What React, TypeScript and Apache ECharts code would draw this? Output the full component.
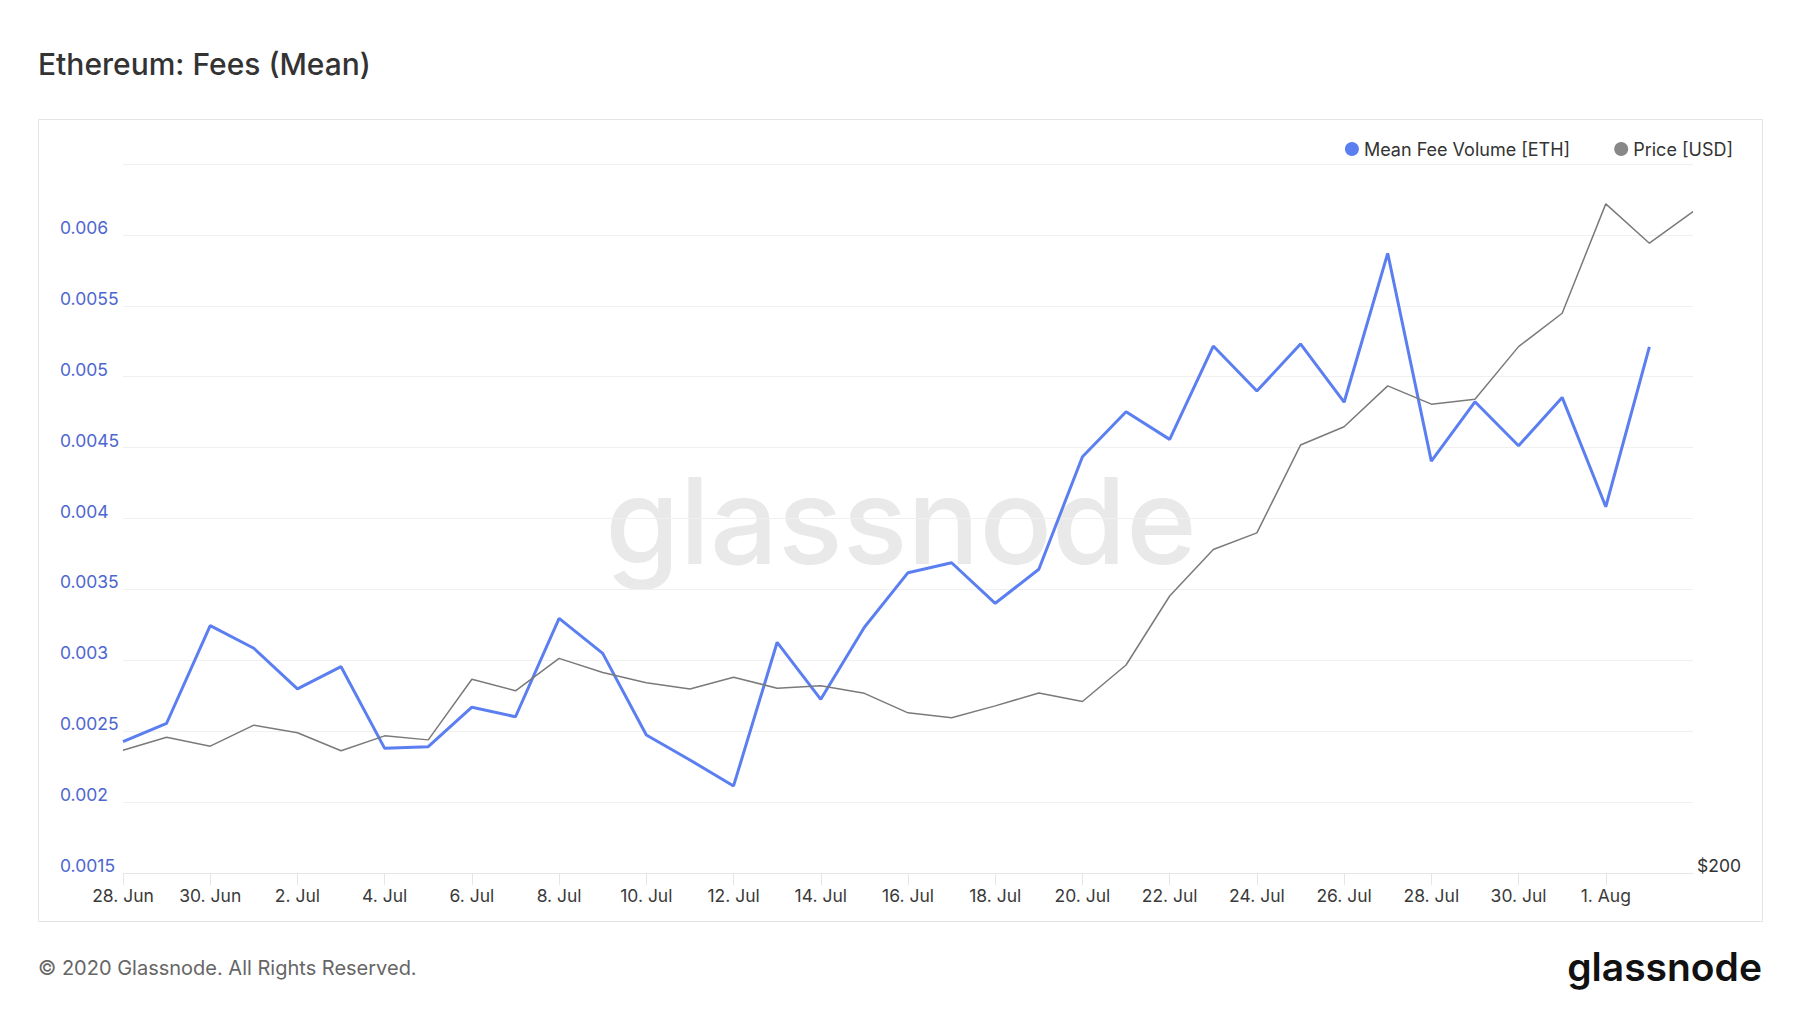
import React, { useEffect, useRef } from "react";
import * as echarts from "echarts";

const dates = [
  "28. Jun", "29. Jun", "30. Jun", "1. Jul", "2. Jul", "3. Jul", "4. Jul", "5. Jul",
  "6. Jul", "7. Jul", "8. Jul", "9. Jul", "10. Jul", "11. Jul", "12. Jul", "13. Jul",
  "14. Jul", "15. Jul", "16. Jul", "17. Jul", "18. Jul", "19. Jul", "20. Jul", "21. Jul",
  "22. Jul", "23. Jul", "24. Jul", "25. Jul", "26. Jul", "27. Jul", "28. Jul", "29. Jul",
  "30. Jul", "31. Jul", "1. Aug", "2. Aug", "3. Aug",
];

const meanFeeEth = [
  0.002426, 0.002556, 0.003244, 0.003085, 0.002798, 0.002955, 0.002379, 0.002391,
  0.002669, 0.002602, 0.003296, 0.003049, 0.002473, 0.002297, 0.002114, 0.003127,
  0.002725, 0.003233, 0.003618, 0.003688, 0.003402, 0.003642, 0.004436, 0.004753,
  0.004558, 0.005216, 0.004899, 0.005231, 0.00482, 0.00587, 0.004405, 0.004823,
  0.004513, 0.004854, 0.004083, 0.005211,
];

const priceUsd = [
  225.5, 228.4, 226.4, 231.1, 229.4, 225.4, 228.7, 227.8,
  241.7, 239.0, 246.7, 243.3, 240.9, 239.4, 242.2, 239.6,
  240.2, 238.4, 233.9, 232.8, 235.5, 238.5, 236.5, 245.1,
  262.2, 274.4, 278.9, 303.9, 309.4, 322.0, 316.3, 317.8,
  334.6, 345.7, 384.7, 370.2, 381.8,
];

const leftMin = 0.0015;
const leftMax = 0.0065;
const leftStep = 0.0005;
const rightMin = 200;
const rightMax = 400;

const FONT = "Inter, 'Noto Sans', sans-serif";
const BLUE = "#5b7ff0";
const GREY = "#7a7a7a";

export default function App() {
  const ref = useRef<HTMLDivElement>(null);

  useEffect(() => {
    if (!ref.current) return;
    const chart = echarts.init(ref.current, undefined, { renderer: "svg" });
    const lastIdx = dates.length - 1;
    const showLabel = (idx: number) => idx % 2 === 0 && idx < lastIdx;

    chart.setOption({
      animation: false,
      backgroundColor: "#ffffff",
      textStyle: { fontFamily: FONT },
      grid: { left: 123, right: 107, top: 164, bottom: 140, containLabel: false },
      legend: {
        right: 62,
        top: 135,
        icon: "circle",
        itemWidth: 14,
        itemHeight: 14,
        itemGap: 44,
        textStyle: { fontFamily: FONT, fontSize: 18, color: "#333333" },
        data: [
          { name: "Mean Fee Volume [ETH]", itemStyle: { color: BLUE } },
          { name: "Price [USD]", itemStyle: { color: "#888888" } },
        ],
      },
      xAxis: {
        type: "category",
        data: dates,
        boundaryGap: false,
        axisLine: { lineStyle: { color: "#e6e6e6", width: 1 } },
        axisTick: { show: true, interval: (i: number) => showLabel(i), length: 12, lineStyle: { color: "#e6e6e6" } },
        axisLabel: {
          interval: (i: number) => showLabel(i),
          margin: 13,
          fontSize: 17.5,
          color: "#3a3a3a",
          fontFamily: FONT,
        },
        splitLine: { show: false },
      },
      yAxis: [
        {
          type: "value",
          min: leftMin,
          max: leftMax,
          interval: leftStep,
          position: "left",
          axisLine: { show: false },
          axisTick: { show: false },
          splitLine: { show: true, lineStyle: { color: "#f0f0f0", width: 1 } },
          axisLabel: {
            showMaxLabel: false,
            align: "left",
            verticalAlign: "bottom",
            margin: 63,
            lineHeight: 15,
            fontSize: 17.5,
            color: "#4e66d0",
            fontFamily: FONT,
            formatter: (v: number) => String(parseFloat(v.toFixed(4))),
          },
        },
        {
          type: "log",
          logBase: 10,
          min: rightMin,
          max: rightMax,
          position: "right",
          axisLine: { show: false },
          axisTick: { show: false },
          splitLine: { show: false },
          axisLabel: {
            showMaxLabel: false,
            align: "left",
            verticalAlign: "bottom",
            margin: 4,
            lineHeight: 16,
            fontSize: 17.5,
            color: "#333333",
            fontFamily: FONT,
            formatter: (v: number) => (Math.abs(v - rightMin) < 1 ? "$" + rightMin : ""),
          },
        },
      ],
      series: [
        {
          name: "Mean Fee Volume [ETH]",
          type: "line",
          yAxisIndex: 0,
          data: meanFeeEth,
          symbol: "none",
          lineStyle: { color: BLUE, width: 3 },
          itemStyle: { color: BLUE },
          z: 3,
        },
        {
          name: "Price [USD]",
          type: "line",
          yAxisIndex: 1,
          data: priceUsd,
          symbol: "none",
          lineStyle: { color: GREY, width: 1.5 },
          itemStyle: { color: "#888888" },
          z: 4,
        },
      ],
      graphic: [
        {
          type: "rect",
          z: 0,
          silent: true,
          shape: { x: 38.5, y: 119.5, width: 1724, height: 802 },
          style: { fill: "none", stroke: "#e3e3e3", lineWidth: 1 },
        },
        {
          type: "text",
          z: 0,
          silent: true,
          x: 901,
          y: 520,
          style: {
            text: "glassnode",
            font: "500 120px " + FONT,
            fill: "#e9e9e9",
            textAlign: "center",
            textVerticalAlign: "middle",
          },
        },
        {
          type: "text",
          x: 38,
          y: 64,
          style: {
            text: "Ethereum: Fees (Mean)",
            font: "500 30px " + FONT,
            fill: "#333333",
            textAlign: "left",
            textVerticalAlign: "middle",
          },
        },
        {
          type: "text",
          x: 38,
          y: 968,
          style: {
            text: "© 2020 Glassnode. All Rights Reserved.",
            font: "400 20px " + FONT,
            fill: "#666666",
            textAlign: "left",
            textVerticalAlign: "middle",
          },
        },
        {
          type: "text",
          x: 1762,
          y: 966,
          style: {
            text: "glassnode",
            font: "600 39px " + FONT,
            fill: "#111111",
            textAlign: "right",
            textVerticalAlign: "middle",
          },
        },
      ],
    });

    return () => chart.dispose();
  }, []);

  return (
    <div
      ref={ref}
      style={{ position: "fixed", left: 0, top: 0, width: 1800, height: 1013 }}
    />
  );
}
